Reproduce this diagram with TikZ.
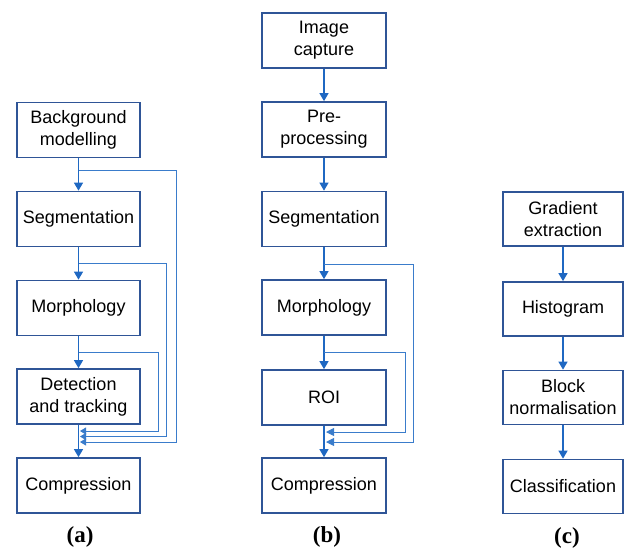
\documentclass[tikz,border=0pt]{standalone}
\usepackage{fontspec}
\setmainfont{Liberation Sans}
\newfontfamily\labfont{Liberation Serif}
\usetikzlibrary{arrows.meta,calc}
\definecolor{boxc}{HTML}{2F5597}
\definecolor{arrc}{HTML}{1F68C2}
\definecolor{fbc}{HTML}{3A7CCB}
\tikzset{
  x=1pt,y=-1pt,
  blk/.style={draw=boxc,line width=1.7pt,fill=white,rectangle,align=center,
    inner sep=0pt,font=\fontsize{18}{22}\selectfont},
  blka/.style={blk,minimum width=123pt,minimum height=55pt},
  blkb/.style={blk,minimum width=124pt,minimum height=55pt},
  blkc/.style={blk,minimum width=120pt,minimum height=54pt},
  flow/.style={draw=arrc,line width=1.3pt,-{Triangle[length=8pt,width=9pt]}},
  fb/.style={draw=fbc,line width=0.9pt,-{Triangle[length=6pt,width=7pt]}},
  fbb/.style={draw=fbc,line width=0.9pt,-{Triangle[length=8pt,width=8pt]}},
  lab/.style={font=\labfont\bfseries\fontsize{23}{26}\selectfont,inner sep=0pt},
}
\begin{document}
\begin{tikzpicture}
\useasboundingbox (0,0) rectangle (636,552);
% ---------- (a)
\node[blka] (abg) at (78.5,130) {Background\\modelling};
\node[blka] (aseg) at (78.5,219) {Segmentation};
\node[blka] (amor) at (78.5,308) {Morphology};
\node[blka] (adet) at (78.5,396.5) {Detection\\and tracking};
\node[blka] (acmp) at (78.5,485.5) {Compression};
\draw[flow] (abg) -- (aseg);
\draw[flow] (aseg) -- (amor);
\draw[flow] (amor) -- (adet);
\draw[flow] (adet) -- (acmp);
\coordinate (ab1) at (78.5,170);
\coordinate (ab2) at (78.5,263);
\coordinate (ab3) at (78.5,352);
\coordinate (ae1) at (80,442);
\coordinate (ae2) at (80,436.5);
\coordinate (ae3) at (80,431);
\draw[fb] (ab1) -- (176,170) -- (176,442) -- (ae1);
\draw[fb] (ab2) -- (166,263) -- (166,436.5) -- (ae2);
\draw[fb] (ab3) -- (158,352) -- (158,431) -- (ae3);
\node[lab] (la) at (80,537) {(a)};
% ---------- (b)
\node[blkb] (bic) at (324,40.5) {Image\\capture};
\node[blkb] (bpp) at (324,129.5) {Pre-\\processing};
\node[blkb] (bseg) at (324,219) {Segmentation};
\node[blkb] (bmor) at (324,307.5) {Morphology};
\node[blkb] (broi) at (324,397.5) {ROI};
\node[blkb] (bcmp) at (324,485.5) {Compression};
\draw[flow] (bic) -- (bpp);
\draw[flow] (bpp) -- (bseg);
\draw[flow] (bseg) -- (bmor);
\draw[flow] (bmor) -- (broi);
\draw[flow] (broi) -- (bcmp);
\coordinate (bb1) at (324,264);
\coordinate (bb2) at (324,352);
\coordinate (be1) at (326,442);
\coordinate (be2) at (326,432);
\draw[fbb] (bb1) -- (413,264) -- (413,442) -- (be1);
\draw[fbb] (bb2) -- (405,352) -- (405,432) -- (be2);
\node[lab] (lb) at (327,537) {(b)};
% ---------- (c)
\node[blkc] (cge) at (563,219) {Gradient\\extraction};
\node[blkc] (chi) at (563,309) {Histogram};
\node[blkc] (cbn) at (563,397.5) {Block\\normalisation};
\node[blkc] (ccl) at (563,486.5) {Classification};
\draw[flow] (cge) -- (chi);
\draw[flow] (chi) -- (cbn);
\draw[flow] (cbn) -- (ccl);
\node[lab] (lc) at (567,538) {(c)};
\end{tikzpicture}
\end{document}
